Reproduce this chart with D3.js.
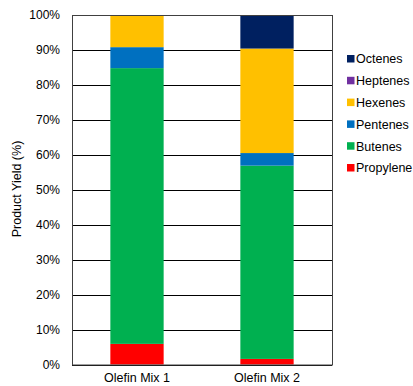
<!DOCTYPE html>
<html>
<head>
<meta charset="utf-8">
<script src="https://cdn.jsdelivr.net/npm/d3@7"></script>
<style>
  body { margin: 0; background: #fff; }
  text { font-family: "Liberation Sans", Arial, sans-serif; fill: #000; }
</style>
</head>
<body>
<div id="graphic"></div>
<script>
// data
var categories = ['Olefin Mix 1', 'Olefin Mix 2'];
var seriesNames = ['Propylene', 'Butenes', 'Pentenes', 'Hexenes', 'Heptenes', 'Octenes'];
var propylene = [5.9, 1.6];
var butenes   = [78.9, 55.3];
var pentenes  = [6.0, 3.6];
var hexenes   = [9.2, 29.9];
var heptenes  = [0, 0];
var octenes   = [0, 9.6];
var yTicks = [0, 10, 20, 30, 40, 50, 60, 70, 80, 90, 100];
var colors = ['#ff0000', '#00b050', '#0070c0', '#ffc000', '#7030a0', '#002060'];

var seriesValues = [propylene, butenes, pentenes, hexenes, heptenes, octenes];

var W = 413, H = 386;
var margin = {top: 15, right: 81, bottom: 21.5, left: 72},
    width = W - margin.left - margin.right,
    height = H - margin.top - margin.bottom;

var svg = d3.select('#graphic').append('svg')
    .attr('width', W).attr('height', H);
var g = svg.append('g')
    .attr('transform', 'translate(' + margin.left + ',' + margin.top + ')');

var x = d3.scaleBand().domain(categories).range([0, width]).paddingInner(0.59).paddingOuter(0.295);
var y = d3.scaleLinear().domain([0, 100]).range([height, 0]);

// build table for stacking
var table = categories.map(function(c, i) {
  var row = {cat: c};
  seriesNames.forEach(function(s, j) { row[s] = seriesValues[j][i]; });
  return row;
});
var stack = d3.stack().keys(seriesNames)(table);

// gridlines
g.append('g').selectAll('line').data(yTicks).enter().append('line')
    .attr('x1', 0).attr('x2', width)
    .attr('y1', function(d) { return Math.round(y(d)) + 0.5; })
    .attr('y2', function(d) { return Math.round(y(d)) + 0.5; })
    .attr('stroke', '#000').attr('stroke-width', 1);

// bars
g.append('g').selectAll('g').data(stack).enter().append('g')
    .attr('fill', function(d, i) { return colors[i]; })
    .selectAll('rect').data(function(d) { return d; }).enter().append('rect')
    .attr('x', function(d) { return x(d.data.cat); })
    .attr('width', x.bandwidth())
    .attr('y', function(d) { return y(d[1]); })
    .attr('height', function(d) { return y(d[0]) - y(d[1]); });

// plot border
g.append('rect')
    .attr('x', 0.5).attr('y', 0.5)
    .attr('width', width).attr('height', height)
    .attr('fill', 'none').attr('stroke', '#404040').attr('stroke-width', 1);

// y axis labels
g.append('g').selectAll('text').data(yTicks).enter().append('text')
    .attr('x', -12)
    .attr('y', function(d) { return y(d); })
    .attr('dy', '0.35em')
    .style('text-anchor', 'end')
    .style('font-size', '12px')
    .text(function(d) { return d + '%'; });

// x axis labels
g.append('g').selectAll('text').data(categories).enter().append('text')
    .attr('x', function(d) { return x(d) + x.bandwidth() / 2; })
    .attr('y', height + 17)
    .style('text-anchor', 'middle')
    .style('font-size', '12.5px')
    .text(function(d) { return d; });

// y axis title
svg.append('text')
    .attr('transform', 'rotate(-90)')
    .attr('x', -189)
    .attr('y', 21)
    .style('text-anchor', 'middle')
    .style('font-size', '12.5px')
    .text('Product Yield (%)');

// legend (reverse order)
var legendItems = seriesNames.slice().reverse();
var legend = svg.append('g').attr('transform', 'translate(347,59)');
legendItems.forEach(function(name, i) {
  var row = legend.append('g').attr('transform', 'translate(0,' + (i * 21.8) + ')');
  row.append('rect')
      .attr('x', 0).attr('y', -4)
      .attr('width', 7.5).attr('height', 7.5)
      .attr('fill', colors[seriesNames.indexOf(name)]);
  row.append('text')
      .attr('x', 9).attr('y', 0)
      .attr('dy', '0.35em')
      .style('font-size', '12.5px')
      .text(name);
});
</script>
</body>
</html>
